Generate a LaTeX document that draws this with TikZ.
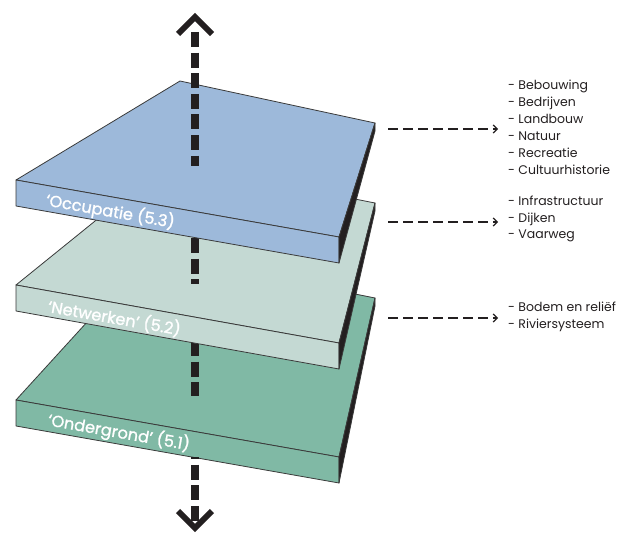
\documentclass[tikz,border=0pt]{standalone}
\usepackage{fontspec}
\setmainfont{Poppins}
\newfontfamily\labelfont[FakeBold=1.2]{Poppins}
\usetikzlibrary{arrows.meta,calc}
\definecolor{occ}{HTML}{9DB9DA}
\definecolor{net}{HTML}{C4D9D3}
\definecolor{ond}{HTML}{80B9A5}
\definecolor{sideblack}{HTML}{231F20}
\definecolor{edgegrey}{HTML}{3A3A3A}
\definecolor{txt}{HTML}{231F20}
\tikzset{
  slabedge/.style={draw=edgegrey, line width=0.8pt, line join=round},
  axis/.style={draw=sideblack, line width=8pt, dash pattern=on 15pt off 5.6pt},
  chevron/.style={draw=sideblack, line width=6pt, line join=miter},
  side/.style={draw=sideblack, line width=1.2pt, dash pattern=on 10pt off 5pt, -{Straight Barb[length=4pt,width=8pt]}},
  listtext/.style={text=txt, font=\fontsize{12.5}{16.9}\selectfont, align=left, anchor=west, inner sep=0pt},
  slablabel/.style={text=white, font=\labelfont\fontsize{16.2}{18}\selectfont, anchor=west, rotate=-10, inner sep=0pt}
}
\newcommand\slabdraw[2]{%
  \filldraw[slabedge, fill=#2] (#1L) -- (#1B) -- (#1R) -- (#1F) -- cycle;
  \filldraw[slabedge, fill=#2] (#1L) -- (#1F) -- ++(0,26) -- ($(#1L)+(0,26)$) -- cycle;
  \filldraw[slabedge, fill=sideblack] (#1F) -- (#1R) -- ++(0,8) -- ($(#1F)+(0,26)$) -- cycle;
}
\newcommand\axisseg[2]{%
  \begin{scope}
    \clip (0,#1) rectangle (624,#2);
    \draw[axis] (vtop) -- (vbot);
  \end{scope}
}
\begin{document}
\begin{tikzpicture}[x=1pt,y=-1pt]
\useasboundingbox (0,0) rectangle (624,535);
% corner coordinates
\coordinate (oL) at (16,180);  \coordinate (oB) at (180,81);  \coordinate (oR) at (375,123); \coordinate (oF) at (339,237);
\coordinate (nL) at (16,285);  \coordinate (nB) at (168,162); \coordinate (nR) at (375,203); \coordinate (nF) at (339,343);
\coordinate (gL) at (16,400);  \coordinate (gB) at (150,253); \coordinate (gR) at (375,298); \coordinate (gF) at (339,457);
\coordinate (vtop) at (195,32);
\coordinate (vbot) at (195,527);
% bottom slab
\slabdraw{g}{ond}
\axisseg{300}{395}
\axisseg{457}{527}
\node[slablabel] (lblg) at (48,420) {‘Ondergrond’ (5.1)};
% middle slab
\slabdraw{n}{net}
\axisseg{200}{283}
\node[slablabel] (lbln) at (48,306) {‘Netwerken’ (5.2)};
% top slab
\slabdraw{o}{occ}
\axisseg{0}{165}
\node[slablabel] (lblo) at (46,200) {‘Occupatie (5.3)};
% chevrons
\coordinate (ta) at (178,34); \coordinate (tp) at (195,17); \coordinate (tb) at (212,34);
\draw[chevron] (ta) -- (tp) -- (tb);
\coordinate (ba) at (178,511); \coordinate (bp) at (195,528); \coordinate (bb) at (212,511);
\draw[chevron] (ba) -- (bp) -- (bb);
% lists
\node[listtext] (l1) at (508,127.5) {- Bebouwing\\- Bedrijven\\- Landbouw\\- Natuur\\- Recreatie\\- Cultuurhistorie};
\node[listtext] (l2) at (508,219) {- Infrastructuur\\- Dijken\\- Vaarweg};
\node[listtext] (l3) at (508,316.5) {- Bodem en reliëf\\- Riviersysteem};
\coordinate (s1) at (388,129); \coordinate (s2) at (388,222); \coordinate (s3) at (388,318);
\draw[side] (s1) -- ($(s1 -| l1.west)+(-10,0)$);
\draw[side] (s2) -- ($(s2 -| l2.west)+(-10,0)$);
\draw[side] (s3) -- ($(s3 -| l3.west)+(-10,0)$);
\end{tikzpicture}
\end{document}
